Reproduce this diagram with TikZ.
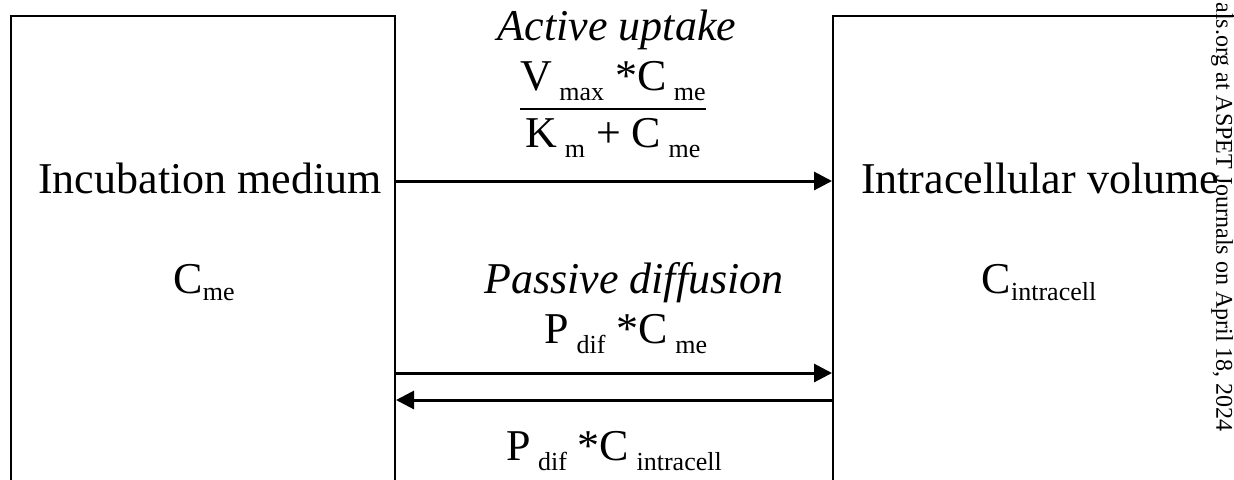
\documentclass[tikz,border=0pt]{standalone}
\usepackage{fontspec}
\setmainfont{Liberation Serif}
\usepackage{amsmath}
\usetikzlibrary{arrows.meta}

\newcommand{\subsz}{\fontsize{13}{13}\selectfont}
\newcommand{\eqsub}[1]{\,\raisebox{-5pt}{\subsz #1}}
\newcommand{\boxsub}[1]{\raisebox{-3.5pt}{\subsz #1}}

\begin{document}
\begin{tikzpicture}[
    x=0.5pt, y=-0.5pt,
    every node/.style={font=\fontsize{22}{26}\selectfont, inner sep=0pt},
    compartment/.style={draw, line width=1pt, rectangle, minimum height=260pt},
    flux/.style={line width=1.5pt, -{Triangle[length=9pt, width=9pt]}},
    ratelabel/.style={anchor=base},
    pathway/.style={anchor=base, font=\fontsize{22}{26}\selectfont\itshape},
    stamp/.style={font=\fontsize{12}{14}\selectfont, rotate=-90, anchor=west}
  ]
  \useasboundingbox (0,0) rectangle (1234,479);

  \node[compartment, minimum width=192pt] (medium) at (203,276) {};
  \node[compartment, minimum width=240pt] (cell) at (1073,276) {};

  \node[ratelabel] (mediumname) at (210,193) {Incubation medium};
  \node[ratelabel] (mediumconc) at (204,293) {C\boxsub{me}};
  \node[ratelabel] (cellname) at (1040,193) {Intracellular volume};
  \node[ratelabel] (cellconc) at (1039,293) {C\boxsub{intracell}};

  \node[pathway] (active) at (617,40) {Active uptake};
  \node[ratelabel] (michaelis) at (613,119)
       {$\genfrac{}{}{1pt}{0}{\mbox{V\eqsub{max} *C\eqsub{me}}}{\mbox{K\eqsub{m} + C\eqsub{me}}}$};
  \node[pathway] (passive) at (634,293) {Passive diffusion};
  \node[ratelabel] (influx) at (626,343) {P\eqsub{dif} *C\eqsub{me}};
  \node[ratelabel] (efflux) at (614,460) {P\eqsub{dif} *C\eqsub{intracell}};

  \draw[flux] (medium.east |- 0,181) -- (cell.west |- 0,181);
  \draw[flux] (medium.east |- 0,373) -- (cell.west |- 0,373);
  \draw[flux] (cell.west |- 0,400) -- (medium.east |- 0,400);

  \node[stamp] (jpet) at (1222,2) {als.org at ASPET Journals on April 18, 2024};
\end{tikzpicture}
\end{document}
